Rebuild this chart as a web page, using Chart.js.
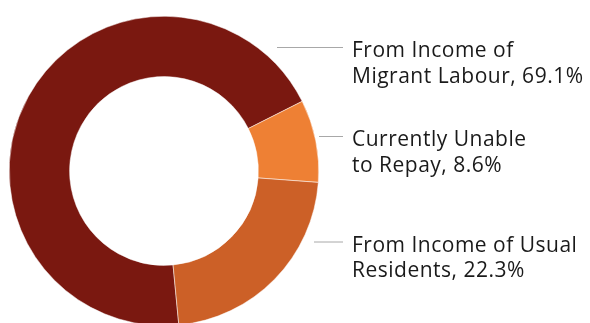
<!DOCTYPE html>
<html>
<head>
<meta charset="utf-8">
<script src="https://cdn.jsdelivr.net/npm/chart.js@4.4.1/dist/chart.umd.min.js"></script>
<style>
  html, body { margin: 0; padding: 0; background: #fff; }
  #wrap { width: 590px; height: 323px; overflow: hidden; position: relative; }
  canvas { display: block; }
</style>
</head>
<body>
<div id="wrap"><canvas id="repay" width="590" height="340"></canvas></div>
<script>
// Source of loan repayment, share of households (%)
const sources = ['Migrant Labour', 'Unable', 'Usual Residents'];
const shares = [69.1, 8.6, 22.3];
const sliceColors = ['#7a1810', '#ee8034', '#cc6027'];

// Callout text, one entry per slice (two lines each)
const calloutLines = [
  ['From Income of', 'Migrant Labour, 69.1%'],
  ['Currently Unable', 'to Repay, 8.6%'],
  ['From Income of Usual', 'Residents, 22.3%']
];

// Callout placement: y of the leader line and where it starts on the left
const calloutY = [47, 136, 241.5];
const leaderStartX = [277, 319, 314];
const leaderEndX = 343;
const textX = 352;

const calloutPlugin = {
  id: 'callouts',
  afterDraw(chart) {
    const ctx = chart.ctx;
    ctx.save();
    ctx.strokeStyle = '#a8a8a8';
    ctx.lineWidth = 1;
    ctx.fillStyle = '#1a1a1a';
    ctx.font = '21px "Open Sans"';
    ctx.letterSpacing = '0.5px';
    ctx.textBaseline = 'alphabetic';
    ctx.textAlign = 'left';
    calloutLines.forEach((lines, i) => {
      const y = calloutY[i];
      ctx.beginPath();
      ctx.moveTo(leaderStartX[i], y + 0.5);
      ctx.lineTo(leaderEndX, y + 0.5);
      ctx.stroke();
      lines.forEach((txt, j) => {
        ctx.fillText(txt, textX, y + 10 + j * 25.5);
      });
    });
    ctx.restore();
  }
};

new Chart(document.getElementById('repay').getContext('2d'), {
  type: 'doughnut',
  data: {
    labels: sources,
    datasets: [{
      data: shares,
      backgroundColor: sliceColors,
      borderColor: '#ffffff',
      borderWidth: 0.5,
      hoverOffset: 0
    }]
  },
  options: {
    responsive: false,
    animation: false,
    devicePixelRatio: 1,
    cutout: '61%',
    rotation: 174.5,
    layout: {
      padding: { left: 9, right: 271, top: 16, bottom: 14 }
    },
    plugins: {
      legend: { display: false },
      tooltip: { enabled: false }
    }
  },
  plugins: [calloutPlugin]
});
</script>
</body>
</html>
